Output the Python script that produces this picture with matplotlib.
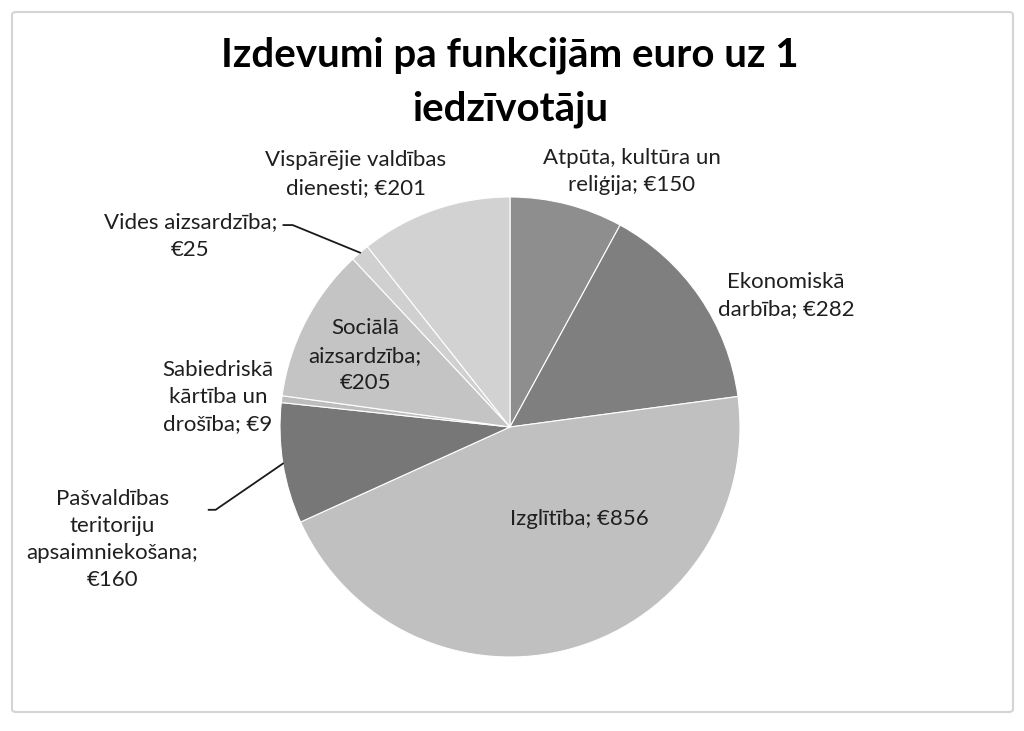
import numpy as np
import matplotlib
matplotlib.use("Agg")
import matplotlib.pyplot as plt
from matplotlib.patches import FancyBboxPatch

plt.rcParams['font.family'] = ['Lato', 'DejaVu Sans']

# slice data, clockwise from the top
names = ["Atpūta, kultūra un\nreliģija", "Ekonomiskā\ndarbība", "Izglītība",
         "Pašvaldības\nteritoriju\napsaimniekošana;\n", "Sabiedriskā\nkārtība un\ndrošība",
         "Sociālā\naizsardzība;\n", "Vides aizsardzība;\n", "Vispārējie valdības\ndienesti"]
values = [150, 282, 856, 160, 9, 205, 25, 201]
colors = ["#8e8e8e", "#7f7f7f", "#c0c0c0", "#777777", "#bdbdbd", "#c4c4c4", "#d0d0d0", "#d2d2d2"]

# label spots in pie-radius units (center = 0,0)
label_pos = [(0.53, 1.11), (1.20, 0.57), (0.30, -0.40), (-1.73, -0.49),
             (-1.27, 0.13), (-0.63, 0.31), (-1.39, 0.83), (-0.67, 1.10)]
# leader line ends for the two labels that have one (elbow x, elbow y, end x)
leaders = {3: (-1.28, -0.36, -1.31), 6: (-0.945, 0.878, -0.985)}

fig = plt.figure(figsize=(10.24, 7.31), dpi=100)
ax = fig.add_axes([0, 0, 1, 1])

wedges, _ = ax.pie(values, colors=colors, startangle=90, counterclock=False,
                   radius=1.0, wedgeprops=dict(edgecolor="white", linewidth=0.8))

for i, (nm, v) in enumerate(zip(names, values)):
  if nm.endswith("\n"):
    txt = nm + "€%d" % v
  else:
    txt = nm + "; €%d" % v
  x, y = label_pos[i]
  ax.text(x, y, txt, ha="center", va="center", fontsize=16, color="#1f1f1f",
          linespacing=1.45)
  if i in leaders:
    w = wedges[i]
    mid = np.deg2rad((w.theta1 + w.theta2) / 2)
    ex, ey = np.cos(mid), np.sin(mid)
    lx, ly, hx = leaders[i]
    ax.plot([ex, lx, hx], [ey, ly, ly], color="#1a1a1a", lw=1.3)

ax.text(0.0, 1.50, "Izdevumi pa funkcijām euro uz 1\niedzīvotāju", ha="center",
        va="center", fontsize=29, fontweight="bold", color="black", linespacing=1.55)

ax.set_xlim(-510 / 230, (1024 - 510) / 230)
ax.set_ylim(-(731 - 427) / 230, 427 / 230)
ax.set_aspect("equal")
ax.axis("off")

# chart frame
frame = FancyBboxPatch((12 / 1024, 19 / 731), 1001 / 1024, 700 / 731,
                       boxstyle="round,pad=0,rounding_size=0.004",
                       transform=fig.transFigure, facecolor="none",
                       edgecolor="#d4d4d4", lw=1.5)
fig.patches.append(frame)

fig.savefig("out.png", dpi=100)
